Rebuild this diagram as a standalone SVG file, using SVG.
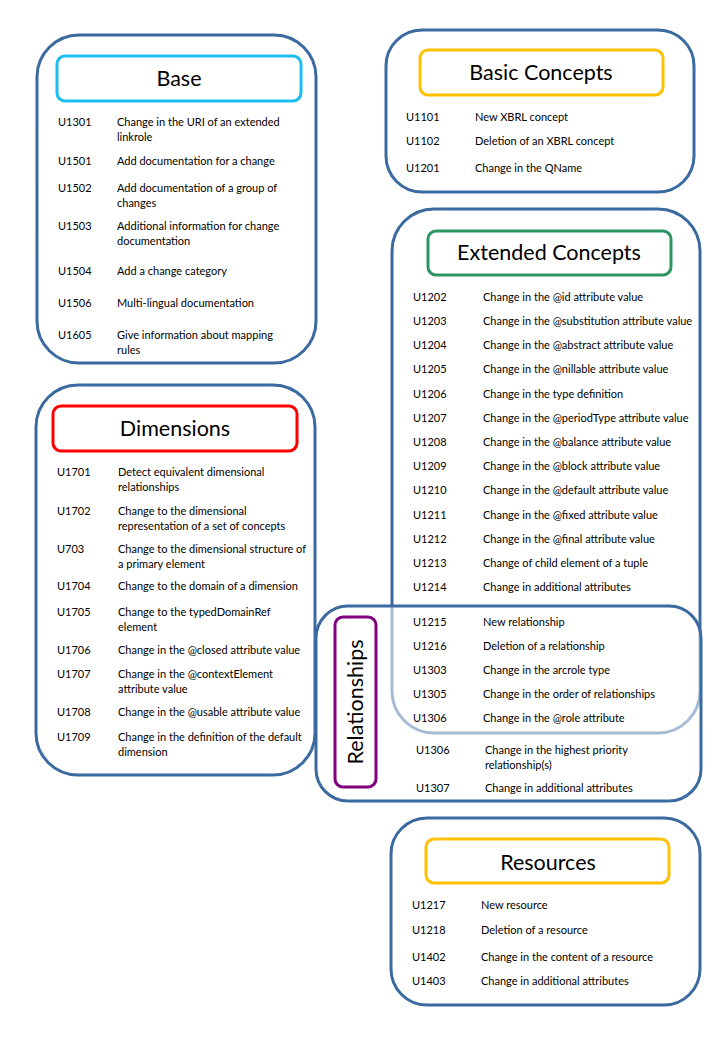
<svg xmlns="http://www.w3.org/2000/svg" width="720" height="1040" viewBox="0 0 720 1040">
<style>
.outer{fill:#fff;stroke:#3B6AA0;stroke-width:3}
.rel{fill:#fff;fill-opacity:0.55;stroke:#3B6AA0;stroke-width:3}
.tb{fill:#fff;stroke-width:3}
.title{font-family:Lato,"Liberation Sans",sans-serif;font-size:21.5px;fill:#000;text-anchor:middle}
.t{font-family:Lato,"Liberation Sans",sans-serif;font-size:11px;fill:#000}
</style>
<rect width="720" height="1040" fill="#fff"/>

<g id="extended-concepts">
<rect class="outer" x="392" y="209" width="308" height="524" rx="42"/>
<rect class="tb" x="428" y="231" width="243" height="44" rx="8" stroke="#2E9461"/>
<text class="title" x="549" y="260">Extended Concepts</text>
<g class="t">
<text x="413" y="301">U1202</text><text x="483" y="301">Change in the @id attribute value</text>
<text x="413" y="325">U1203</text><text x="483" y="325">Change in the @substitution attribute value</text>
<text x="413" y="349">U1204</text><text x="483" y="349">Change in the @abstract attribute value</text>
<text x="413" y="373">U1205</text><text x="483" y="373">Change in the @nillable attribute value</text>
<text x="413" y="398">U1206</text><text x="483" y="398">Change in the type definition</text>
<text x="413" y="422">U1207</text><text x="483" y="422">Change in the @periodType  attribute value</text>
<text x="413" y="446">U1208</text><text x="483" y="446">Change in the @balance attribute value</text>
<text x="413" y="470">U1209</text><text x="483" y="470">Change in the @block attribute value</text>
<text x="413" y="494">U1210</text><text x="483" y="494">Change in the @default attribute value</text>
<text x="413" y="519">U1211</text><text x="483" y="519">Change in the @fixed attribute value</text>
<text x="413" y="543">U1212</text><text x="483" y="543">Change in the @final attribute value</text>
<text x="413" y="567">U1213</text><text x="483" y="567">Change of child element of a tuple</text>
<text x="413" y="591">U1214</text><text x="483" y="591">Change in additional attributes</text>
</g>
</g>

<g id="relationships">
<rect class="rel" x="316" y="606" width="385" height="195" rx="32"/>
<rect class="tb" x="335" y="617" width="41" height="170" rx="8" stroke="#800080"/>
<text class="title" transform="translate(363,702) rotate(-90)">Relationships</text>
<g class="t">
<text x="413" y="626">U1215</text><text x="483" y="626">New relationship</text>
<text x="413" y="650">U1216</text><text x="483" y="650">Deletion of a relationship</text>
<text x="413" y="674">U1303</text><text x="483" y="674">Change in the arcrole type</text>
<text x="413" y="698">U1305</text><text x="483" y="698">Change in the order of relationships</text>
<text x="413" y="722">U1306</text><text x="483" y="722">Change in the @role attribute</text>
<text x="416" y="754">U1306</text><text x="485" y="754">Change in the highest priority</text>
<text x="485" y="769">relationship(s)</text>
<text x="416" y="792">U1307</text><text x="485" y="792">Change in additional attributes</text>
</g>
</g>

<g id="base">
<rect class="outer" x="37" y="35" width="279" height="328" rx="42"/>
<rect class="tb" x="57" y="56" width="244" height="45" rx="8" stroke="#1CBEEE"/>
<text class="title" x="179" y="86">Base</text>
<g class="t">
<text x="58" y="126">U1301</text><text x="117" y="126">Change in the URI of an extended</text>
<text x="117" y="141">linkrole</text>
<text x="58" y="165">U1501</text><text x="117" y="165">Add documentation for a change</text>
<text x="58" y="192">U1502</text><text x="117" y="192">Add documentation of a group of</text>
<text x="117" y="207">changes</text>
<text x="58" y="230">U1503</text><text x="117" y="230">Additional information for change</text>
<text x="117" y="245">documentation</text>
<text x="58" y="275">U1504</text><text x="117" y="275">Add a change category</text>
<text x="58" y="307">U1506</text><text x="117" y="307">Multi-lingual documentation</text>
<text x="58" y="339">U1605</text><text x="117" y="339">Give information about mapping</text>
<text x="117" y="354">rules</text>
</g>
</g>

<g id="basic-concepts">
<rect class="outer" x="386" y="30" width="308" height="162" rx="36"/>
<rect class="tb" x="420" y="50" width="243" height="45" rx="8" stroke="#FFC000"/>
<text class="title" x="541" y="80">Basic Concepts</text>
<g class="t">
<text x="406" y="121">U1101</text><text x="475" y="121">New XBRL concept</text>
<text x="406" y="145">U1102</text><text x="475" y="145">Deletion of an XBRL concept</text>
<text x="406" y="172">U1201</text><text x="475" y="172">Change in the QName</text>
</g>
</g>

<g id="dimensions">
<rect class="outer" x="36" y="385" width="279" height="390" rx="42"/>
<rect class="tb" x="53" y="406" width="244" height="45" rx="8" stroke="#FF0000"/>
<text class="title" x="175" y="436">Dimensions</text>
<g class="t">
<text x="57" y="476">U1701</text><text x="118" y="476">Detect equivalent dimensional</text>
<text x="118" y="491">relationships</text>
<text x="57" y="515">U1702</text><text x="118" y="515">Change to the dimensional</text>
<text x="118" y="530">representation of a set of concepts</text>
<text x="57" y="553">U703</text><text x="118" y="553">Change to the dimensional structure of</text>
<text x="118" y="568">a primary element</text>
<text x="57" y="590">U1704</text><text x="118" y="590">Change to the domain of a dimension</text>
<text x="57" y="616">U1705</text><text x="118" y="616">Change to the typedDomainRef</text>
<text x="118" y="631">element</text>
<text x="57" y="654">U1706</text><text x="118" y="654">Change in the @closed attribute value</text>
<text x="57" y="678">U1707</text><text x="118" y="678">Change in the @contextElement</text>
<text x="118" y="693">attribute value</text>
<text x="57" y="716">U1708</text><text x="118" y="716">Change in the @usable attribute value</text>
<text x="57" y="741">U1709</text><text x="118" y="741">Change in the definition of the default</text>
<text x="118" y="756">dimension</text>
</g>
</g>

<g id="resources">
<rect class="outer" x="391" y="818" width="309" height="187" rx="36"/>
<rect class="tb" x="426" y="839" width="243" height="44" rx="8" stroke="#FFC000"/>
<text class="title" x="548" y="870">Resources</text>
<g class="t">
<text x="412" y="909">U1217</text><text x="481" y="909">New resource</text>
<text x="412" y="934">U1218</text><text x="481" y="934">Deletion of a resource</text>
<text x="412" y="961">U1402</text><text x="481" y="961">Change in the content of a resource</text>
<text x="412" y="985">U1403</text><text x="481" y="985">Change in additional attributes</text>
</g>
</g>

<g id="connectors"></g>
</svg>
